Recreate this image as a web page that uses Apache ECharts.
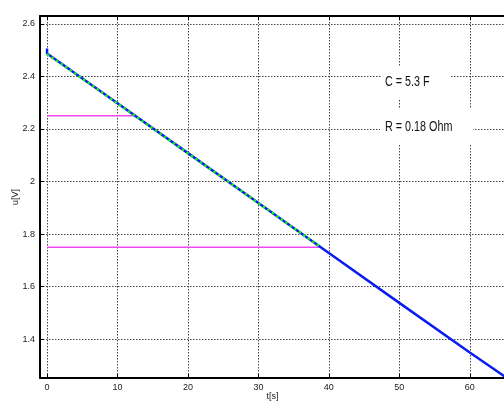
<!DOCTYPE html>
<html>
<head>
<meta charset="utf-8">
<script src="https://cdn.jsdelivr.net/npm/echarts@6/dist/echarts.min.js"></script>
<style>html,body{margin:0;padding:0;background:#fff}#c{width:504px;height:405px}</style>
</head>
<body>
<div id="c"></div>
<script>
// Model curve (blue)
const modelT = [0, 0, 10, 20, 30, 40, 50, 60, 65];
const modelU = [2.506, 2.487, 2.298, 2.108, 1.918, 1.728, 1.538, 1.349, 1.257];
// Measured data (green dashed), only up to ~38.7 s
const measT = [0, 5, 10, 15, 20, 25, 30, 35, 38.7];
const measU = [2.485, 2.392, 2.297, 2.202, 2.107, 2.013, 1.918, 1.823, 1.754];
// Reference (pink) horizontal markers
const pink1T = [0, 12.5];
const pink1U = [2.25, 2.25];
const pink2T = [0, 38.8];
const pink2U = [1.75, 1.75];
// Annotation texts
const noteC = 'C = 5.3 F';
const noteR = 'R = 0.18 Ohm';
const xName = 't[s]';
const yName = 'u[V]';

const zip = (a, b) => a.map((v, i) => [v, b[i]]);
const FONT = '"Liberation Sans Narrow", "Arial Narrow", "Liberation Sans", sans-serif';
const gridLine = { show: true, lineStyle: { color: '#444', type: [1.5, 1.5], width: 1 } };
const axLine = { show: true, onZero: false, lineStyle: { color: '#000', width: 2 } };
const lbl = { color: '#222', fontFamily: FONT, fontSize: 9, showMinLabel: false, showMaxLabel: false };

const chart = echarts.init(document.getElementById('c'));
chart.setOption({
  animation: false,
  backgroundColor: '#fff',
  grid: { left: 40, top: 16, right: -1, bottom: 27, containLabel: false, outerBoundsMode: 'none' },
  xAxis: [{
    type: 'value', min: -1, max: 65, splitNumber: 7, position: 'bottom',
    name: xName, nameLocation: 'middle', nameGap: 14, nameMoveOverlap: false,
    nameTextStyle: { color: '#222', fontFamily: FONT, fontSize: 9 },
    axisLine: axLine, axisTick: { show: true, inside: true, length: 4, lineStyle: { color: '#000' } },
    axisLabel: Object.assign({ margin: 5 }, lbl), splitLine: gridLine
  }, {
    type: 'value', min: -1, max: 65, splitNumber: 7, position: 'top',
    axisLine: axLine, axisTick: { show: true, inside: true, length: 4, lineStyle: { color: '#000' } },
    axisLabel: { show: false }, splitLine: { show: false }
  }],
  yAxis: [{
    type: 'value', min: 1.252, max: 2.63, splitNumber: 7,
    name: yName, nameLocation: 'middle', nameGap: 20, nameRotate: 90, nameMoveOverlap: false,
    nameTextStyle: { color: '#222', fontFamily: FONT, fontSize: 9 },
    axisLine: axLine, axisTick: { show: true, inside: true, length: 4, lineStyle: { color: '#000' } },
    axisLabel: Object.assign({ margin: 5, formatter: v => String(+v.toFixed(1)) }, lbl), splitLine: gridLine
  }],
  series: [
    { type: 'line', data: zip(pink1T, pink1U), symbol: 'none', lineStyle: { color: '#f048f0', width: 1.5 }, z: 2 },
    { type: 'line', data: zip(pink2T, pink2U), symbol: 'none', lineStyle: { color: '#f048f0', width: 1.5 }, z: 2 },
    { type: 'line', data: zip(modelT, modelU), symbol: 'none', lineStyle: { color: '#0a1cf0', width: 2.5 }, z: 3 },
    { type: 'line', data: zip(measT, measU), symbol: 'none', lineStyle: { color: '#18f018', width: 2.5, type: [2.5, 3] }, z: 4 }
  ],
  graphic: [
    { type: 'rect', shape: { x: 382, y: 66, width: 68, height: 34 }, style: { fill: '#fff' }, z: 10 },
    { type: 'text', x: 385, y: 82, scaleX: 0.77, style: { text: noteC, fill: '#111', font: '14px ' + FONT, textVerticalAlign: 'middle' }, z: 11 },
    { type: 'rect', shape: { x: 380, y: 109, width: 93, height: 35 }, style: { fill: '#fff' }, z: 10 },
    { type: 'text', x: 385, y: 127, scaleX: 0.77, style: { text: noteR, fill: '#111', font: '14px ' + FONT, textVerticalAlign: 'middle' }, z: 11 }
  ]
});
</script>
</body>
</html>
